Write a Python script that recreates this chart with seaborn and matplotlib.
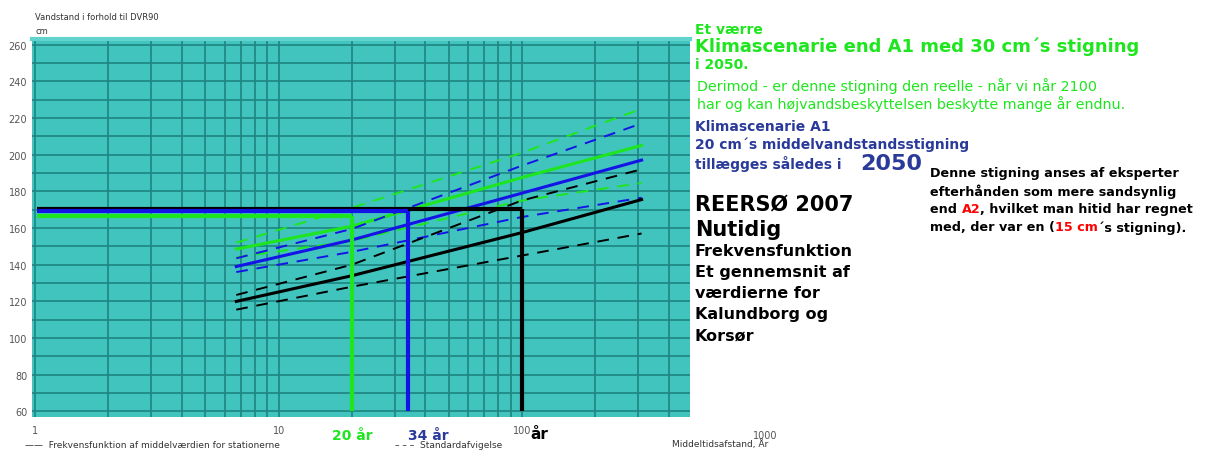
#!/usr/bin/env python3

import numpy as np
import pandas as pd
import seaborn as sns
import matplotlib.pyplot as plt

# return period (years) where the frequency curves are read
years = [6.7, 20, 100, 310]

# water level, cm relative to DVR90
green_upper = [152, 171, 201, 225]
green_mid = [148.5, 161, 187.5, 205]
green_lower = [144, 153, 175, 184.5]
blue_upper = [143.5, 159.5, 194, 217]
blue_mid = [139, 153.5, 179, 197]
blue_lower = [136, 147, 166, 176.5]
black_upper = [123.5, 140, 175, 192]
black_mid = [120, 134, 157.5, 175.5]
black_lower = [115.5, 128, 145, 157]

# dike level lines and the return periods where they are crossed
scenarios = ["nutid", "A1", "værre"]
levels = [170.5, 169, 166.5]
periods = [100, 34, 20]

y_ticks = [60, 80, 100, 120, 140, 160, 180, 200, 220, 240, 260]

GREEN = "#1ee61e"
BLUE = "#1414e6"
NAVY = "#2a3a9a"
TEAL = "#42c4be"
GRID = "#1f8580"

rows = []
for scen, band, vals in [
    ("værre", "upper", green_upper), ("værre", "mid", green_mid), ("værre", "lower", green_lower),
    ("A1", "upper", blue_upper), ("A1", "mid", blue_mid), ("A1", "lower", blue_lower),
    ("nutid", "upper", black_upper), ("nutid", "mid", black_mid), ("nutid", "lower", black_lower),
]:
    for x, v in zip(years, vals):
        rows.append({"år": x, "cm": v, "scenarie": scen, "kurve": band})
df = pd.DataFrame(rows)

palette = {"værre": GREEN, "A1": BLUE, "nutid": "black"}

fig = plt.figure(figsize=(12.2, 4.52), dpi=100)
ax = fig.add_axes([32 / 1220, 1 - 418 / 452, (690 - 32) / 1220, (418 - 40) / 452])
ax.set_facecolor(TEAL)

ax.set_xscale("log")
ax.set_xlim(0.97, 490)
ax.set_ylim(57, 263)

sns.lineplot(data=df, x="år", y="cm", hue="scenarie", style="kurve",
             palette=palette,
             dashes={"upper": (6, 4.5), "mid": "", "lower": (6, 4.5)},
             size="kurve", sizes={"upper": 1.4, "mid": 2.2, "lower": 1.4},
             estimator=None, sort=True, legend=False, ax=ax, zorder=4)

# horizontal dike level and drop lines
for scen, lev, per in zip(scenarios, levels, periods):
    ax.hlines(lev, 1.02, per, color=palette[scen], lw=3, zorder=5)
    ax.vlines(per, 60, lev, color=palette[scen], lw=3, zorder=5)

# grid
ax.set_yticks(y_ticks)
ax.set_yticks(np.arange(70, 260, 20), minor=True)
ax.set_xticks([1, 10, 100])
ax.set_xticklabels(["1", "10", "100"])
ax.grid(True, which="both", color=GRID, lw=1.2, zorder=1)
ax.set_axisbelow(True)
ax.tick_params(which="both", length=0, labelsize=7, colors="#555555")
ax.tick_params(axis="x", pad=6)
ax.set_xlabel("")
ax.set_ylabel("")
for s in ax.spines.values():
    s.set_visible(False)
ax.spines["top"].set_visible(True)
ax.spines["top"].set_color("#5fd3cc")
ax.spines["top"].set_linewidth(3)

# x labels outside axes
ax.text(1000, -0.035, "1000", transform=ax.get_xaxis_transform(), ha="center", va="top",
        fontsize=7, color="#555555", clip_on=False)
ax.text(20, -0.028, "20 år", transform=ax.get_xaxis_transform(), ha="center", va="top",
        fontsize=10, fontweight="bold", color=GREEN)
ax.text(34, -0.028, "34 år", transform=ax.get_xaxis_transform(), ha="left", va="top",
        fontsize=10, fontweight="bold", color=NAVY)
ax.text(108, -0.025, "år", transform=ax.get_xaxis_transform(), ha="left", va="top",
        fontsize=11, fontweight="bold", color="black")

fig.text(35 / 1220, 1 - 18 / 452, "Vandstand i forhold til DVR90", fontsize=6, color="#333333", va="center")
fig.text(35 / 1220, 1 - 31 / 452, "cm", fontsize=6, color="#333333", va="center")
fig.text(672 / 1220, 1 - 444 / 452, "Middeltidsafstand, År", fontsize=6.5, color="#333333", va="center")
fig.text(25 / 1220, 1 - 446 / 452, "——  Frekvensfunktion af middelværdien for stationerne",
         fontsize=6.5, color="#333333", va="center")
fig.text(395 / 1220, 1 - 446 / 452, "– – –  Standardafvigelse", fontsize=6.5, color="#333333", va="center")


def px(x, y):
    return x / 1220, 1 - y / 452


def rich_line(x, y, parts, size):
    """Draw text pieces of different colour side by side."""
    renderer = fig.canvas.get_renderer()
    cur = x
    for txt, col in parts:
        t = fig.text(*px(cur, y), txt, fontsize=size, fontweight="bold", color=col, va="center")
        bb = t.get_window_extent(renderer)
        cur += bb.width


# green block
fig.text(*px(695, 30), "Et værre", fontsize=10, fontweight="bold", color=GREEN, va="center")
fig.text(*px(695, 47), "Klimascenarie end A1 med 30 cm´s stigning", fontsize=13, fontweight="bold",
         color=GREEN, va="center")
fig.text(*px(695, 65), "i 2050.", fontsize=10, fontweight="bold", color=GREEN, va="center")
fig.text(*px(697, 86), "Derimod - er denne stigning den reelle - når vi når 2100", fontsize=10.3,
         color=GREEN, va="center")
fig.text(*px(697, 104), "har og kan højvandsbeskyttelsen beskytte mange år endnu.", fontsize=10.3,
         color=GREEN, va="center")

# blue block
fig.text(*px(695, 127), "Klimascenarie A1", fontsize=10, fontweight="bold", color=NAVY, va="center")
fig.text(*px(695, 145), "20 cm´s middelvandstandsstigning", fontsize=10, fontweight="bold", color=NAVY,
         va="center")
fig.text(*px(695, 164), "tillægges således i", fontsize=10, fontweight="bold", color=NAVY, va="center")
fig.text(*px(860, 164), "2050", fontsize=16, fontweight="bold", color=NAVY, va="center")

# black block
fig.text(*px(930, 174), "Denne stigning anses af eksperter", fontsize=9.2, fontweight="bold", va="center")
fig.text(*px(930, 192), "efterhånden som mere sandsynlig", fontsize=9.2, fontweight="bold", va="center")
rich_line(930, 210, [("end ", "black"), ("A2", "red"), (", hvilket man hitid har regnet", "black")], 9.2)
rich_line(930, 228, [("med, der var en (", "black"), ("15 cm", "red"), ("´s stigning).", "black")], 9.2)

fig.text(*px(695, 205), "REERSØ 2007", fontsize=15, fontweight="bold", va="center")
fig.text(*px(695, 230), "Nutidig", fontsize=15, fontweight="bold", va="center")
for i, line in enumerate(["Frekvensfunktion", "Et gennemsnit af", "værdierne for", "Kalundborg og", "Korsør"]):
    fig.text(*px(695, 252 + i * 21), line, fontsize=11.5, fontweight="bold", va="center")

plt.savefig("out.png", dpi=100)
